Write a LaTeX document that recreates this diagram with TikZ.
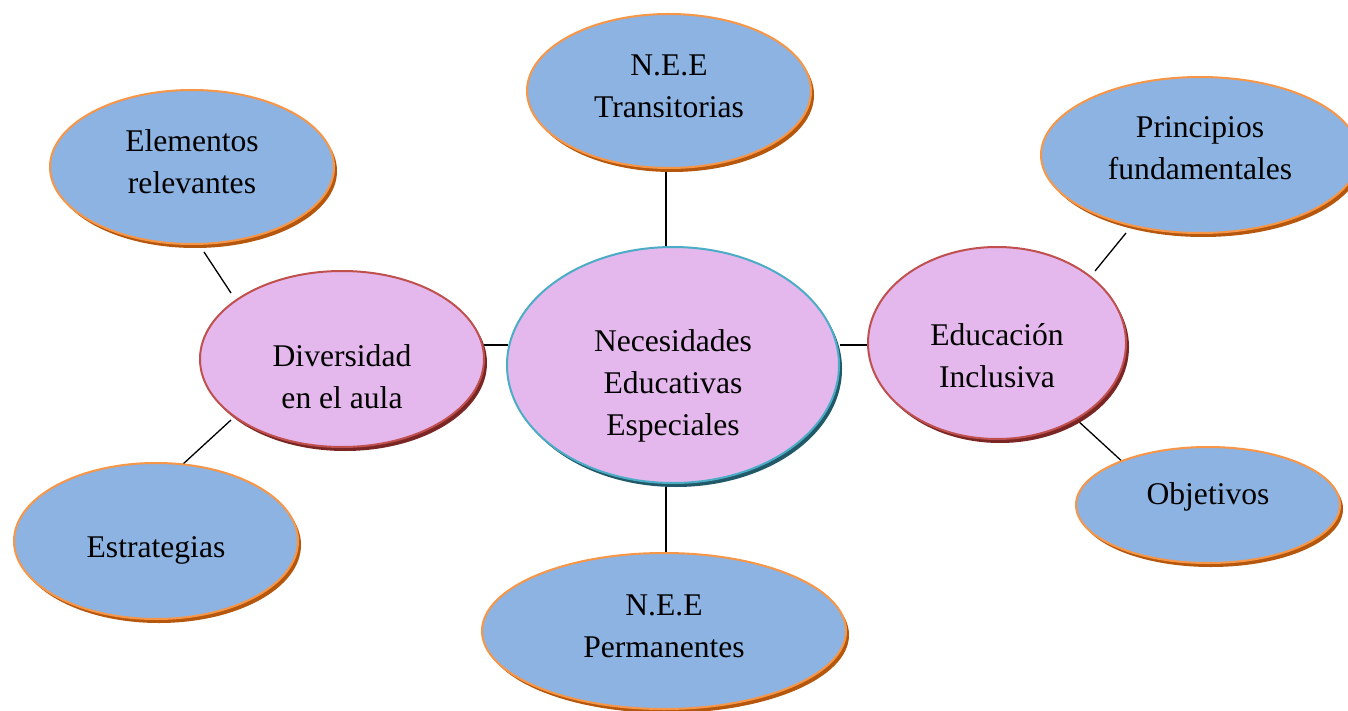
\documentclass[tikz,border=0pt]{standalone}
\usepackage{fontspec}
\setmainfont{Liberation Serif}
\usetikzlibrary{shapes.geometric,shadows}
\definecolor{bluefill}{RGB}{141,179,226}
\definecolor{orangeline}{RGB}{247,150,70}
\definecolor{orangeshadow}{RGB}{182,87,14}
\definecolor{pinkfill}{RGB}{229,184,237}
\definecolor{redline}{RGB}{192,80,77}
\definecolor{redshadow}{RGB}{122,38,36}
\definecolor{cyanline}{RGB}{75,172,198}
\definecolor{tealshadow}{RGB}{33,89,104}
\tikzset{
  bubble/.style={ellipse, inner sep=0pt, line width=2pt},
  leafbubble/.style={bubble, draw=orangeline, fill=bluefill,
    drop shadow={shadow xshift=3pt, shadow yshift=-4pt, fill=orangeshadow, opacity=1}},
  midbubble/.style={bubble, draw=redline, fill=pinkfill,
    drop shadow={shadow xshift=3pt, shadow yshift=-4pt, fill=redshadow, opacity=1}},
  corebubble/.style={bubble, draw=cyanline, fill=pinkfill,
    drop shadow={shadow xshift=3pt, shadow yshift=-4pt, fill=tealshadow, opacity=1}},
  txt/.style={align=center, inner sep=0pt, font=\fontsize{31.6}{42}\selectfont},
  link/.style={line width=1.3pt, draw=black}
}
\begin{document}
\begin{tikzpicture}[x=1pt,y=-1pt]
\useasboundingbox (0,0) rectangle (1348,711);
\fill[white] (0,0) rectangle (1348,711);
% connectors first
\coordinate (c1a) at (666,170); \coordinate (c1b) at (666,248);
\coordinate (c2a) at (666,486); \coordinate (c2b) at (666,553);
\coordinate (c3a) at (484,345); \coordinate (c3b) at (508,345);
\coordinate (c4a) at (840,345); \coordinate (c4b) at (868,345);
\coordinate (c5a) at (204,252); \coordinate (c5b) at (231,293);
\coordinate (c6a) at (231,420); \coordinate (c6b) at (182,465);
\coordinate (c7a) at (1095,271); \coordinate (c7b) at (1126,233);
\coordinate (c8a) at (1077,420); \coordinate (c8b) at (1126,465);
\foreach \p in {1,...,8} {\draw[link] (c\p a) -- (c\p b);}
% ellipses
\node[leafbubble, minimum width=284pt, minimum height=154pt] (trans) at (669,91) {};
\node[leafbubble, minimum width=284pt, minimum height=154pt] (elem) at (192,167) {};
\node[leafbubble, minimum width=318pt, minimum height=156pt] (princ) at (1200,155) {};
\node[midbubble, minimum width=284pt, minimum height=176pt] (diver) at (342,359) {};
\node[corebubble, minimum width=332pt, minimum height=236pt] (nee) at (673,365) {};
\node[midbubble, minimum width=258pt, minimum height=192pt] (educ) at (997,343) {};
\node[leafbubble, minimum width=264pt, minimum height=116pt] (obj) at (1208,505) {};
\node[leafbubble, minimum width=284pt, minimum height=156pt] (estr) at (156,541) {};
\node[leafbubble, minimum width=364pt, minimum height=156pt] (perm) at (664,631) {};
% texts
\node[txt] (ttrans) at (669,86) {N.E.E\\Transitorias};
\node[txt] (telem) at (192,162) {Elementos\\relevantes};
\node[txt] (tprinc) at (1200,148) {Principios\\fundamentales};
\node[txt] (tdiver) at (342,377) {Diversidad\\en el aula};
\node[txt] (tnee) at (673,386) {Necesidades\\Educativas\\Especiales};
\node[txt] (teduc) at (997,356) {Educación\\Inclusiva};
\node[txt] (tobj) at (1208,497) {Objetivos};
\node[txt] (testr) at (156,550) {Estrategias};
\node[txt] (tperm) at (664,626) {N.E.E\\Permanentes};
\end{tikzpicture}
\end{document}
